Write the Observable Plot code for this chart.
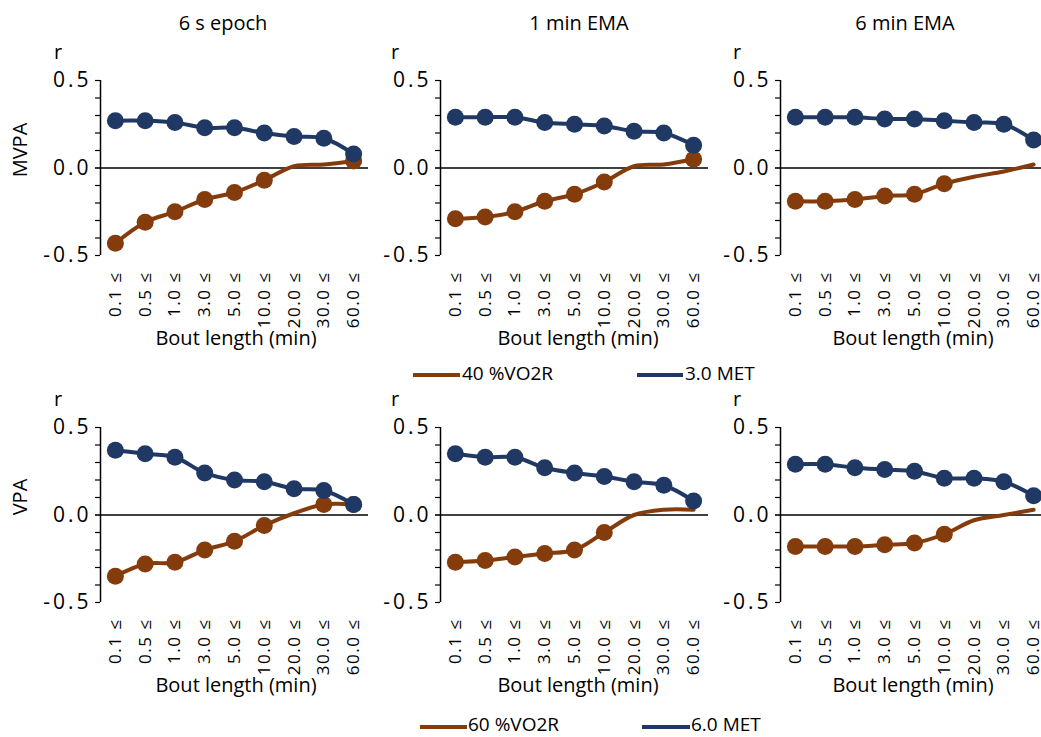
<!DOCTYPE html>
<html>
<head>
<meta charset="utf-8">
<script src="https://cdn.jsdelivr.net/npm/d3@7"></script>
<script src="https://cdn.jsdelivr.net/npm/@observablehq/plot@0.6"></script>
<style>
  body { margin: 0; background: #fff; }
  #root { position: relative; width: 1041px; height: 737px; overflow: hidden; background: #fff;
          font-family: "Open Sans", sans-serif; color: #000; }
  .t { position: absolute; white-space: nowrap; line-height: 1; }
  .p { position: absolute; }
  .p svg { overflow: visible; max-width: none !important; display: block; }
  .p [aria-label="y-axis tick label"] { letter-spacing: 3px; }
  .p [aria-label="x-axis tick label"] { letter-spacing: 1.5px; }
  .sw { position: absolute; height: 4px; }
</style>
</head>
<body>
<div id="root"></div>
<script>
// ---- data ----
const categories = ["0.1 ≤", "0.5 ≤", "1.0 ≤", "3.0 ≤", "5.0 ≤", "10.0 ≤", "20.0 ≤", "30.0 ≤", "60.0 ≤"];
const columnTitles = ["6 s epoch", "1 min EMA", "6 min EMA"];
const rowTitles = ["MVPA", "VPA"];
const yTicks = [-0.5, 0, 0.5];
const seriesNames = [["40 %VO2R", "3.0 MET"], ["60 %VO2R", "6.0 MET"]];

// MVPA row (40 %VO2R vs 3.0 MET)
const met3_epoch6s   = [0.27, 0.27, 0.26, 0.23, 0.23, 0.20, 0.18, 0.17, 0.08];
const vo2r40_epoch6s = [-0.43, -0.31, -0.25, -0.18, -0.14, -0.07, 0.01, 0.02, 0.04];
const vo2r40_epoch6s_marked = [1, 1, 1, 1, 1, 1, 0, 0, 1];
const met3_ema1   = [0.29, 0.29, 0.29, 0.26, 0.25, 0.24, 0.21, 0.20, 0.13];
const vo2r40_ema1 = [-0.29, -0.28, -0.25, -0.19, -0.15, -0.08, 0.01, 0.02, 0.05];
const vo2r40_ema1_marked = [1, 1, 1, 1, 1, 1, 0, 0, 1];
const met3_ema6   = [0.29, 0.29, 0.29, 0.28, 0.28, 0.27, 0.26, 0.25, 0.16];
const vo2r40_ema6 = [-0.19, -0.19, -0.18, -0.16, -0.15, -0.09, -0.05, -0.02, 0.02];
const vo2r40_ema6_marked = [1, 1, 1, 1, 1, 1, 0, 0, 0];

// VPA row (60 %VO2R vs 6.0 MET)
const met6_epoch6s   = [0.37, 0.35, 0.33, 0.24, 0.20, 0.19, 0.15, 0.14, 0.06];
const vo2r60_epoch6s = [-0.35, -0.28, -0.27, -0.20, -0.15, -0.06, 0.01, 0.06, 0.06];
const vo2r60_epoch6s_marked = [1, 1, 1, 1, 1, 1, 0, 1, 1];
const met6_ema1   = [0.35, 0.33, 0.33, 0.27, 0.24, 0.22, 0.19, 0.17, 0.08];
const vo2r60_ema1 = [-0.27, -0.26, -0.24, -0.22, -0.20, -0.10, 0.00, 0.03, 0.03];
const vo2r60_ema1_marked = [1, 1, 1, 1, 1, 1, 0, 0, 0];
const met6_ema6   = [0.29, 0.29, 0.27, 0.26, 0.25, 0.21, 0.21, 0.19, 0.11];
const vo2r60_ema6 = [-0.18, -0.18, -0.18, -0.17, -0.16, -0.11, -0.03, 0.00, 0.03];
const vo2r60_ema6_marked = [1, 1, 1, 1, 1, 1, 0, 0, 0];

const BROWN = "#843C0C";
const BLUE = "#1F3864";

const panels = [
  [[met3_epoch6s, vo2r40_epoch6s, vo2r40_epoch6s_marked], [met3_ema1, vo2r40_ema1, vo2r40_ema1_marked], [met3_ema6, vo2r40_ema6, vo2r40_ema6_marked]],
  [[met6_epoch6s, vo2r60_epoch6s, vo2r60_epoch6s_marked], [met6_ema1, vo2r60_ema1, vo2r60_ema1_marked], [met6_ema6, vo2r60_ema6, vo2r60_ema6_marked]]
];

// ---- layout ----
const root = document.getElementById("root");
const axisLeft = [100, 440, 780];   // page x of each panel's y axis
const rowTop = [0, 347];            // page y of each row's svg
const ML = 70, MT = 80, PW = 268, PH = 175, MB = 100;

function text(str, x, baseline, size, anchor = "start", rotate = false) {
  const d = document.createElement("div");
  d.className = "t";
  d.textContent = str;
  d.style.fontSize = size + "px";
  if (rotate) {
    d.style.left = x + "px";
    d.style.top = baseline + "px";
    d.style.transform = "translate(-50%, -50%) rotate(-90deg)";
  } else {
    d.style.left = x + "px";
    d.style.top = (baseline - 0.888 * size) + "px";
    if (anchor === "middle") d.style.transform = "translateX(-50%)";
  }
  root.appendChild(d);
}

const minorTicks = d3.range(-5, 6).map(i => i / 10);

function panel([met, vo2r, marked], left, top) {
  const rows = categories.map((c, i) => ({i, met: met[i], vo2r: vo2r[i], marked: marked[i]}));
  const svg = Plot.plot({
    width: ML + PW, height: MT + PH + MB,
    marginLeft: ML, marginRight: 0, marginTop: MT, marginBottom: MB,
    x: {domain: [-0.5, categories.length - 0.5]},
    y: {domain: [-0.5, 0.5]},
    style: {fontFamily: "Open Sans", background: "transparent", color: "#000"},
    marks: [
      Plot.ruleY([0], {stroke: "#000", strokeWidth: 1.5}),
      Plot.ruleX([-0.5], {stroke: "#000", strokeWidth: 1.5}),
      Plot.axisY(minorTicks, {tickSize: 5, tickFormat: () => "", label: null, stroke: "#000", strokeWidth: 1.2}),
      Plot.axisY(yTicks, {tickSize: 5, tickPadding: 4, tickFormat: d => d.toFixed(1), fontSize: 21, label: null, stroke: "#000", fill: "#000"}),
      Plot.axisX(d3.range(categories.length), {tickSize: 0, tickRotate: -90, tickPadding: 16,
        tickFormat: i => categories[i], fontSize: 17, label: null, fill: "#000"}),
      Plot.line(rows, {x: "i", y: "vo2r", stroke: BROWN, strokeWidth: 4, curve: "catmull-rom"}),
      Plot.dot(rows.filter(d => d.marked), {x: "i", y: "vo2r", r: 8.5, fill: BROWN}),
      Plot.line(rows, {x: "i", y: "met", stroke: BLUE, strokeWidth: 4, curve: "catmull-rom"}),
      Plot.dot(rows, {x: "i", y: "met", r: 8.5, fill: BLUE})
    ]
  });
  const wrap = document.createElement("div");
  wrap.className = "p";
  wrap.style.left = left + "px";
  wrap.style.top = top + "px";
  wrap.style.width = (ML + PW) + "px";
  wrap.style.height = (MT + PH + MB) + "px";
  wrap.appendChild(svg);
  root.appendChild(wrap);
}

panels.forEach((row, r) => {
  row.forEach((p, c) => panel(p, axisLeft[c] - ML, rowTop[r]));
});

// column titles
const titleX = [223, 579, 905];
columnTitles.forEach((t, c) => text(t, titleX[c], 31, 20, "middle"));

// "r" labels and x-axis titles
const rX = [58, 395, 737];
const rBase = [60, 407];
const xtitleX = [236, 578, 913];
const xtitleBase = [346, 693];
[0, 1].forEach(r => {
  [0, 1, 2].forEach(c => {
    text("r", rX[c] - 4, rBase[r], 20);
    text("Bout length (min)", xtitleX[c], xtitleBase[r], 20, "middle");
  });
});

// row titles
text(rowTitles[0], 20, 150, 20, "start", true);
text(rowTitles[1], 20, 497, 20, "start", true);

// legends
function swatch(x1, x2, y, color) {
  const d = document.createElement("div");
  d.className = "sw";
  d.style.left = x1 + "px";
  d.style.width = (x2 - x1) + "px";
  d.style.top = (y - 2) + "px";
  d.style.background = color;
  root.appendChild(d);
}
swatch(413, 460, 375, BROWN); text(seriesNames[0][0], 462, 381, 19);
swatch(637, 683, 375, BLUE);  text(seriesNames[0][1], 685, 381, 19);
swatch(420, 467, 727, BROWN); text(seriesNames[1][0], 468, 732, 19);
swatch(642, 690, 727, BLUE);  text(seriesNames[1][1], 691, 732, 19);
</script>
</body>
</html>
